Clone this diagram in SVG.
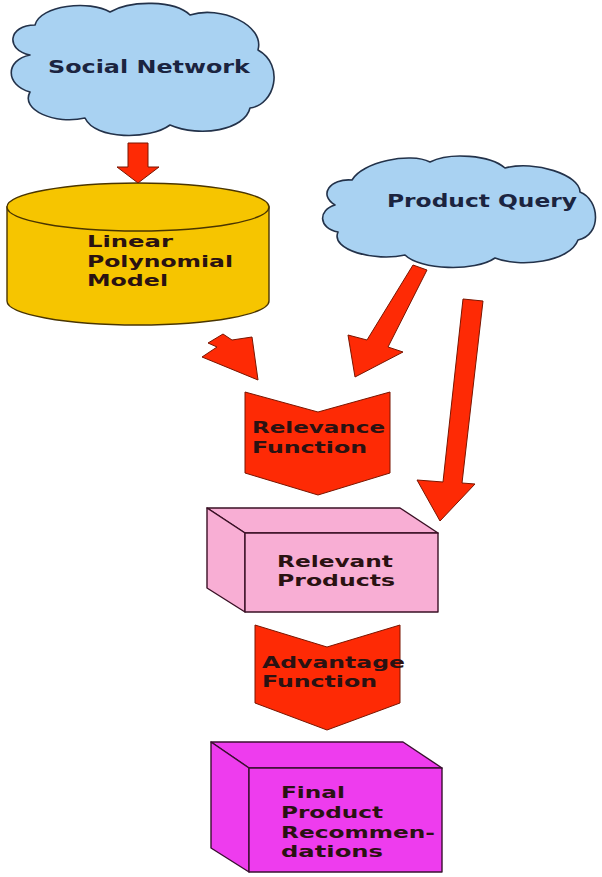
<svg xmlns="http://www.w3.org/2000/svg" width="602" height="877" viewBox="0 0 602 877">
<style>
.cloud{fill:#a9d2f2;stroke:#23324a;stroke-width:1.6;stroke-linejoin:round}
.arrow{fill:#fe2a05;stroke:#7a1500;stroke-width:1;stroke-linejoin:miter}
.chev{fill:#fe2a05;stroke:#7a1500;stroke-width:1}
.t{font-family:"DejaVu Sans",Verdana,sans-serif;font-weight:bold;font-size:16px;fill:#2a1212}
.tc{font-family:"DejaVu Sans",Verdana,sans-serif;font-weight:bold;font-size:17px;fill:#1b2440}
.pink{fill:#f8aed4;stroke:#3a1025;stroke-width:1.4;stroke-linejoin:round}
.mag{fill:#ee3cee;stroke:#3a1030;stroke-width:1.4;stroke-linejoin:round}
</style>
<rect width="602" height="877" fill="#ffffff"/>

<g id="social-network">
<path class="cloud" d="M 30,55 C 5,50 8,25 35,25 C 40,5 90,0 110,12 C 130,0 175,0 190,15 C 220,5 265,25 258,50 C 285,65 275,105 250,108 C 245,130 200,138 170,125 C 150,140 95,140 85,118 C 55,125 20,110 30,92 C 5,85 5,60 30,55 Z"/>
<text class="tc" x="48" y="73" textLength="202" lengthAdjust="spacingAndGlyphs">Social Network</text>
</g>

<g id="product-query">
<path class="cloud" d="M 335,205 C 318,195 330,178 352,180 C 362,162 410,152 430,162 C 450,152 490,155 505,168 C 535,160 580,175 580,192 C 600,200 602,235 578,240 C 570,262 520,268 495,258 C 475,272 420,270 405,255 C 375,262 330,250 338,232 C 318,228 318,210 335,205 Z"/>
<text class="tc" x="387" y="207" textLength="190" lengthAdjust="spacingAndGlyphs">Product Query</text>
</g>

<g id="linear-polynomial-model">
<path d="M 7,207 L 7,301 A 131,24 0 0 0 269,301 L 269,207 Z" fill="#f6c500" stroke="#4a3500" stroke-width="1.4"/>
<ellipse cx="138" cy="207" rx="131" ry="24" fill="#f6c500" stroke="#4a3500" stroke-width="1.4"/>
<text class="t" x="87" y="247" textLength="86" lengthAdjust="spacingAndGlyphs">Linear</text>
<text class="t" x="87" y="267" textLength="146" lengthAdjust="spacingAndGlyphs">Polynomial</text>
<text class="t" x="87" y="286" textLength="81" lengthAdjust="spacingAndGlyphs">Model</text>
</g>

<g id="relevance-function">
<polygon class="chev" points="245,392 318,412 390,392 390,473 318,495 245,473"/>
<text class="t" x="252" y="433" textLength="133" lengthAdjust="spacingAndGlyphs">Relevance</text>
<text class="t" x="252" y="453" textLength="115" lengthAdjust="spacingAndGlyphs">Function</text>
</g>

<g id="relevant-products">
<polygon class="pink" points="207,508 400,508 438,533 245,533"/>
<polygon class="pink" points="207,508 245,533 245,612 207,588"/>
<rect class="pink" x="245" y="533" width="193" height="79"/>
<text class="t" x="277" y="567" textLength="116" lengthAdjust="spacingAndGlyphs">Relevant</text>
<text class="t" x="277" y="586" textLength="118" lengthAdjust="spacingAndGlyphs">Products</text>
</g>

<g id="advantage-function">
<polygon class="chev" points="255,625 327,647 400,625 400,703 327,730 255,703"/>
<text class="t" x="262" y="668" textLength="143" lengthAdjust="spacingAndGlyphs">Advantage</text>
<text class="t" x="262" y="687" textLength="115" lengthAdjust="spacingAndGlyphs">Function</text>
</g>

<g id="final-product-recommendations">
<polygon class="mag" points="211,742 403,742 442,768 249,768"/>
<polygon class="mag" points="211,742 249,768 249,872 211,848"/>
<rect class="mag" x="249" y="768" width="193" height="104"/>
<text class="t" x="281" y="798" textLength="64" lengthAdjust="spacingAndGlyphs">Final</text>
<text class="t" x="281" y="818" textLength="102" lengthAdjust="spacingAndGlyphs">Product</text>
<text class="t" x="281" y="838" textLength="154" lengthAdjust="spacingAndGlyphs">Recommen-</text>
<text class="t" x="281" y="857" textLength="102" lengthAdjust="spacingAndGlyphs">dations</text>
</g>

<g id="connectors">
<polygon class="arrow" points="128,143 148,143 148,167 159,167 138,183 117,167 128,167"/>
<polygon class="arrow" points="208,343 223,334 232,340 252,337 258,380 202,357 217,347"/>
<polygon class="arrow" points="413,265 427,270 388,347 403,352 355,377 348,335 367,340"/>
<polygon class="arrow" points="463,299 483,301 462,483 475,484 440,521 417,480 443,482"/>
</g>
</svg>
